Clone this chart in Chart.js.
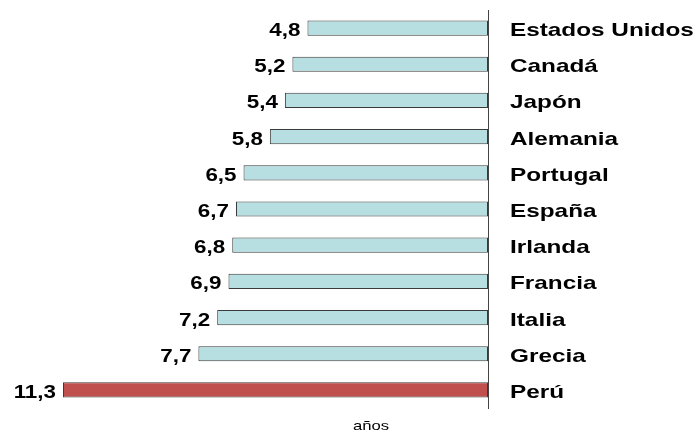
<!DOCTYPE html>
<html>
<head>
<meta charset="utf-8">
<script src="https://cdn.jsdelivr.net/npm/chart.js@4"></script>
<style>
  html, body { margin: 0; padding: 0; background: #fff; }
  #wrap { width: 698px; height: 432px; }
</style>
</head>
<body>
<div id="wrap"><canvas id="c" width="698" height="432"></canvas></div>
<script>
// Años por país
const countries = ["Estados Unidos", "Canadá", "Japón", "Alemania", "Portugal", "España",
                   "Irlanda", "Francia", "Italia", "Grecia", "Perú"];
const years = [4.8, 5.2, 5.4, 5.8, 6.5, 6.7, 6.8, 6.9, 7.2, 7.7, 11.3];
const barColors = ["#B7DFE2", "#B7DFE2", "#B7DFE2", "#B7DFE2", "#B7DFE2", "#B7DFE2",
                   "#B7DFE2", "#B7DFE2", "#B7DFE2", "#B7DFE2", "#C0504D"];
const axisTitle = "años";

const FONT = '"Liberation Sans", Arial, sans-serif';
const STRETCH = 1.28; // wide lettering

function wideText(ctx, txt, x, y, align) {
  ctx.save();
  ctx.translate(x, y);
  ctx.scale(STRETCH, 1);
  ctx.textAlign = align;
  ctx.fillText(txt, 0, 0);
  ctx.restore();
}

// Country names beside the axis, values left of each bar, unit caption below
const labelsPlugin = {
  id: 'barLabels',
  afterDatasetsDraw(chart) {
    const ctx = chart.ctx;
    const meta = chart.getDatasetMeta(0);
    const yScale = chart.scales.y;
    const area = chart.chartArea;
    ctx.save();
    ctx.fillStyle = '#000';
    ctx.textBaseline = 'alphabetic';

    ctx.font = 'bold 19px ' + FONT;
    countries.forEach((name, i) => {
      wideText(ctx, name, area.right + 22, yScale.getPixelForTick(i) + 8, 'left');
    });

    ctx.font = 'bold 17.5px ' + FONT;
    meta.data.forEach((bar, i) => {
      const txt = years[i].toFixed(1).replace('.', ',');
      wideText(ctx, txt, bar.x - 7, bar.y + 8, 'right');
    });

    ctx.font = '13px ' + FONT;
    wideText(ctx, axisTitle, 371, 430, 'center');
    ctx.restore();
  }
};

new Chart(document.getElementById('c'), {
  type: 'bar',
  data: {
    labels: countries,
    datasets: [{
      data: years,
      backgroundColor: barColors,
      borderColor: '#3a3a3a',
      borderWidth: 1,
      borderSkipped: false,
      barPercentage: 0.42,
      categoryPercentage: 1
    }]
  },
  options: {
    indexAxis: 'y',
    responsive: false,
    animation: false,
    layout: { padding: { left: 63, top: 10, bottom: 24, right: 0 } },
    plugins: { legend: { display: false }, tooltip: { enabled: false } },
    scales: {
      x: {
        display: false,
        reverse: true,
        min: 0,
        max: 11.3
      },
      y: {
        position: 'right',
        grid: { display: false, drawTicks: false },
        border: { display: true, color: '#444', width: 1 },
        ticks: { display: false },
        afterFit(scale) { scale.width = 210; }
      }
    }
  },
  plugins: [labelsPlugin]
});
</script>
</body>
</html>
